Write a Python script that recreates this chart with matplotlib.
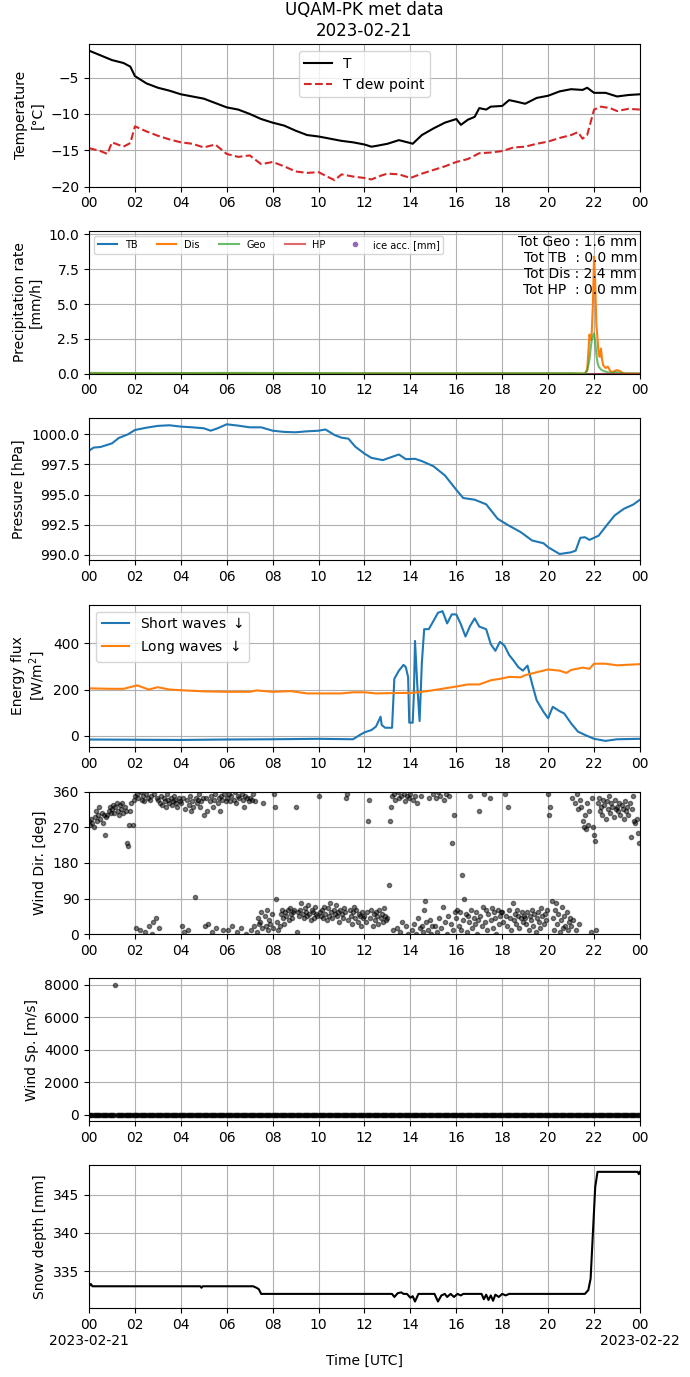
import numpy as np
import pandas as pd
import matplotlib
matplotlib.use("Agg")
import matplotlib.pyplot as plt
import matplotlib.dates as mdates
from matplotlib.ticker import FuncFormatter

day = pd.Timestamp("2023-02-21")

# temperature (hours since 00 UTC)
t_hours = [0, 1, 1.5, 1.8, 2, 2.5, 3, 3.5, 4, 4.5, 5, 5.5, 6, 6.5, 7, 7.5, 8, 8.5, 9, 9.5,
           10, 10.5, 11, 11.5, 12, 12.3, 12.5, 13, 13.5, 14, 14.1, 14.5, 15, 15.5, 16, 16.2,
           16.5, 16.8, 17, 17.3, 17.5, 18, 18.3, 18.6, 19, 19.5, 20, 20.5, 21, 21.5, 21.7,
           22, 22.5, 23, 23.5, 24]
temp = [-1.3, -2.6, -3.0, -3.5, -4.8, -5.8, -6.4, -6.8, -7.3, -7.6, -7.9, -8.5, -9.1, -9.4,
        -10.0, -10.7, -11.2, -11.6, -12.3, -12.9, -13.1, -13.4, -13.7, -13.9, -14.2, -14.5,
        -14.4, -14.1, -13.6, -14.0, -14.1, -12.9, -12.0, -11.2, -10.7, -11.5, -10.8, -10.4,
        -9.2, -9.4, -9.0, -8.9, -8.1, -8.3, -8.6, -7.8, -7.5, -6.9, -6.6, -6.7, -6.4, -7.1,
        -7.1, -7.6, -7.4, -7.3]
td_hours = [0, 0.5, 0.8, 1.0, 1.5, 1.8, 2.0, 2.5, 3.0, 3.5, 4.0, 4.5, 5.0, 5.5, 6.0, 6.5, 7.0,
            7.5, 8.0, 8.5, 9.0, 9.5, 10.0, 10.5, 10.7, 11.0, 11.5, 12.0, 12.3, 12.7, 13.0, 13.5,
            14.0, 14.5, 15.0, 15.5, 16.0, 16.5, 17.0, 17.5, 18.0, 18.5, 19.0, 19.5, 20.0, 20.5,
            21.0, 21.3, 21.5, 21.7, 22.0, 22.3, 22.7, 23.0, 23.5, 24.0]
dew = [-14.7, -15.1, -15.5, -13.9, -14.5, -14.0, -11.7, -12.4, -13.0, -13.5, -13.9, -14.1,
       -14.6, -14.2, -15.5, -15.9, -15.7, -16.9, -16.6, -17.2, -17.9, -18.1, -18.0, -18.8,
       -19.1, -18.3, -18.6, -18.8, -19.0, -18.5, -18.2, -18.3, -18.8, -18.2, -17.7, -17.2,
       -16.6, -16.2, -15.4, -15.3, -15.1, -14.6, -14.5, -14.1, -13.8, -13.3, -12.9, -12.5,
       -13.4, -12.9, -9.4, -9.0, -9.2, -9.6, -9.3, -9.4]

# precipitation rates [mm/h]
precip_hours = [0, 3, 6, 9, 12, 15, 18, 21, 21.6, 21.7, 21.75, 21.8, 21.85, 21.9, 21.95, 22.0,
                22.05, 22.1, 22.15, 22.2, 22.25, 22.3, 22.35, 22.4, 22.5, 22.6, 22.7, 22.8,
                22.9, 23.0, 23.1, 23.2, 23.3, 24.0]
dis = [0, 0, 0, 0, 0, 0, 0, 0, 0, 0.3, 1.5, 2.8, 2.4, 3.0, 5.0, 8.4, 6.5, 3.5, 2.5, 1.4, 1.2,
       1.8, 1.0, 0.6, 0.4, 0.5, 0.2, 0.1, 0.2, 0.25, 0.2, 0.1, 0.0, 0.0]
geo = [0.05, 0.03, 0.05, 0.04, 0.03, 0.02, 0.03, 0.03, 0.0, 0.2, 0.6, 1.0, 1.8, 2.4, 2.7, 2.9,
       2.3, 1.4, 0.8, 0.5, 0.4, 0.3, 0.25, 0.2, 0.15, 0.1, 0.05, 0.05, 0.1, 0.1, 0.05, 0.05,
       0.02, 0.0]
tb_hours = [0, 24]
tb = [0.0, 0.0]
hp_hours = [21.8, 24]
hp = [0.0, 0.0]
ice_hours = []
ice_acc = []
totals = {"Geo": 1.6, "TB": 0.0, "Dis": 2.4, "HP": 0.0}

# pressure [hPa]
p_hours = [0, 0.2, 0.5, 1.0, 1.3, 1.7, 2.0, 2.5, 3.0, 3.5, 4.0, 4.5, 5.0, 5.3, 5.6, 6.0, 6.5,
           7.0, 7.5, 8.0, 8.5, 9.0, 9.5, 10.0, 10.3, 10.7, 11.0, 11.3, 11.6, 12.0, 12.3, 12.8,
           13.0, 13.5, 13.8, 14.2, 14.5, 15.0, 15.5, 16.0, 16.3, 16.8, 17.3, 17.8, 18.2, 18.8,
           19.3, 19.8, 20.0, 20.5, 21.0, 21.2, 21.4, 21.6, 21.8, 22.2, 22.6, 22.9, 23.3, 23.7,
           24.0]
pressure = [998.64, 998.9, 998.95, 999.25, 999.7, 1000.0, 1000.36, 1000.55, 1000.7, 1000.75,
            1000.64, 1000.58, 1000.5, 1000.3, 1000.5, 1000.83, 1000.72, 1000.58, 1000.58,
            1000.3, 1000.2, 1000.17, 1000.25, 1000.3, 1000.4, 999.94, 999.72, 999.64, 998.97,
            998.4, 998.05, 997.86, 998.0, 998.33, 997.94, 997.97, 997.78, 997.36, 996.6, 995.4,
            994.72, 994.58, 994.2, 993.0, 992.53, 991.9, 991.2, 990.97, 990.64, 990.08, 990.22,
            990.36, 991.42, 991.47, 991.25, 991.6, 992.58, 993.28, 993.83, 994.17, 994.58]

# radiation [W/m2]
sw_hours = [0, 2, 4, 6, 8, 10, 11.5, 11.8, 12.0, 12.3, 12.5, 12.6, 12.7, 12.75, 12.9, 13.2,
            13.3, 13.5, 13.7, 13.8, 13.9, 13.95, 14.1, 14.15, 14.2, 14.3, 14.4, 14.5, 14.6,
            14.8, 15.0, 15.2, 15.4, 15.6, 15.8, 16.0, 16.2, 16.4, 16.6, 16.8, 17.0, 17.3, 17.5,
            17.7, 17.9, 18.1, 18.3, 18.5, 18.7, 18.9, 19.1, 19.3, 19.5, 19.8, 20.0, 20.2, 20.5,
            20.7, 21.0, 21.3, 21.6, 22.0, 22.5, 23.0, 24.0]
short_wave = [-17, -18, -19, -17, -16, -14, -16, 3, 14, 24, 39, 60, 82, 46, 34, 34, 247, 282,
              307, 297, 254, 56, 56, 175, 411, 218, 63, 318, 462, 462, 497, 533, 540, 487, 526,
              526, 483, 430, 476, 509, 473, 462, 397, 368, 407, 390, 350, 325, 297, 282, 304,
              225, 153, 103, 75, 125, 106, 96, 53, 17, 3, -14, -23, -16, -14]
lw_hours = [0, 1, 1.5, 2.1, 2.6, 3.0, 3.5, 4, 5, 6, 7, 7.3, 8, 8.8, 9.5, 10.5, 11, 11.5, 12,
            12.5, 13.5, 14, 14.5, 15, 15.5, 16, 16.5, 17, 17.5, 18, 18.3, 18.8, 19, 19.5, 20,
            20.5, 20.8, 21, 21.5, 21.8, 22.0, 22.5, 23, 24]
long_wave = [205, 203, 203, 218, 200, 210, 200, 197, 192, 190, 190, 196, 190, 193, 183, 183,
             183, 188, 188, 183, 185, 185, 190, 197, 205, 213, 222, 222, 240, 248, 255, 253,
             262, 275, 287, 282, 272, 285, 295, 290, 312, 312, 305, 310]

# wind, 3-minute samples, one row per hour
wind_dir = [
    285, 275, 290, 280, 270, 295, 310, 285, 300, 320, 290, 305, 280, 300, 250, 295, 300, 310, 320, 305,
    315, 325, 305, 320, 330, 310, 300, 325, 315, 330, 305, 320, 312, 230, 222, 275, 310, 330, 275, 340,
    350, 15, 355, 345, 10, 358, 340, 350, 335, 5, 355, 345, 20, 340, 350, 0, 30, 355, 40, 345,
    340, 15, 330, 350, 325, 345, 335, 320, 355, 340, 330, 345, 325, 335, 350, 340, 330, 320, 345, 335,
    330, 20, 345, 5, 315, 340, 10, 325, 350, 310, 335, 320, 95, 345, 330, 340, 355, 320, 335, 345,
    300, 20, 345, 310, 25, 335, 350, 5, 320, 340, 355, 15, 330, 345, 310, 350, 340, 10, 355, 335,
    345, 10, 355, 335, 350, 20, 340, 360, 330, 5, 350, 345, 15, 355, 340, 320, 350, 0, 345, 335,
    345, 10, 340, 355, 20, 335, 5, 40, 25, 30, 55, 15, 330, 45, 20, 60, 10, 35, 25, 50,
    15, 355, 320, 90, 30, 10, 20, 50, 60, 40, 25, 55, 45, 60, 35, 65, 50, 40, 55, 60,
    320, 5, 55, 45, 60, 80, 50, 40, 65, 55, 45, 75, 50, 35, 60, 55, 40, 70, 50, 45,
    350, 55, 45, 60, 40, 70, 50, 35, 65, 45, 80, 55, 40, 60, 50, 75, 45, 55, 30, 60,
    50, 40, 65, 55, 345, 355, 35, 60, 45, 25, 55, 70, 40, 60, 30, 50, 45, 20, 55, 40,
    45, 30, 55, 285, 340, 40, 60, 20, 50, 35, 55, 45, 25, 60, 40, 50, 30, 65, 45, 35,
    40, 125, 285, 320, 350, 10, 355, 340, 15, 360, 345, 5, 350, 30, 355, 335, 20, 350, 0, 345,
    355, 10, 340, 25, 350, 0, 330, 40, 15, 350, 20, 5, 60, 85, 30, 10, 345, 35, 0, 20,
    355, 20, 345, 5, 360, 40, 350, 15, 70, 340, 30, 355, 0, 45, 350, 25, 230, 10, 300, 55,
    40, 60, 20, 55, 10, 150, 35, 90, 50, 5, 45, 30, 350, 60, 15, 40, 25, 55, 0, 35,
    310, 45, 20, 70, 355, 30, 60, 10, 50, 345, 35, 65, 15, 55, 40, 0, 60, 25, 45, 55,
    55, 30, 355, 45, 20, 320, 60, 40, 10, 80, 35, 50, 25, 60, 45, 15, 40, 55, 30, 45,
    40, 25, 55, 10, 45, 35, 60, 20, 50, 5, 40, 55, 30, 15, 65, 45, 25, 50, 35, 60,
    355, 300, 320, 85, 40, 10, 60, 80, 25, 50, 5, 35, 70, 15, 45, 20, 55, 10, 30, 40,
    20, 345, 35, 330, 10, 355, 315, 25, 340, 320, 285, 270, 300, 265, 330, 275, 310, 5, 345, 270,
    250, 235, 10, 330, 345, 310, 320, 300, 340, 325, 290, 335, 315, 350, 305, 330, 320, 295, 340, 315,
    320, 310, 330, 300, 325, 315, 290, 335, 310, 320, 300, 330, 245, 315, 350, 285, 280, 290, 255, 230,
]
wind_speed = [
    3.1, 2.8, 3.4, 3.0, 2.6, 3.2, 3.5, 2.9, 3.3, 3.0, 2.7, 3.1, 3.4, 2.8, 3.0, 3.3, 2.9, 3.1, 3.6, 3.2,
    3.0, 3.3, 2.8, 8000.0, 3.1, 2.9, 3.4, 3.2, 2.7, 3.0, 3.5, 3.1, 2.9, 3.3, 3.0, 2.8, 3.2, 3.4, 3.1, 2.9,
    2.7, 2.5, 3.0, 2.8, 2.4, 2.9, 3.1, 2.6, 2.3, 2.8, 3.0, 2.5, 2.7, 2.9, 2.4, 2.6, 3.1, 2.8, 2.5, 2.7,
    2.6, 2.9, 2.4, 2.7, 3.0, 2.5, 2.8, 2.3, 2.6, 2.9, 2.7, 2.4, 2.8, 3.1, 2.6, 2.5, 2.9, 2.7, 2.4, 2.8,
    2.5, 2.2, 2.8, 2.6, 2.3, 2.9, 2.4, 2.7, 2.1, 2.5, 2.8, 2.6, 2.2, 2.4, 2.9, 2.5, 2.3, 2.7, 2.6, 2.4,
    2.3, 2.6, 2.0, 2.4, 2.7, 2.2, 2.5, 2.8, 2.1, 2.4, 2.6, 2.3, 2.0, 2.5, 2.7, 2.2, 2.4, 2.6, 2.1, 2.3,
    2.2, 2.5, 1.9, 2.3, 2.6, 2.1, 2.4, 2.0, 2.7, 2.3, 2.1, 2.5, 2.2, 1.8, 2.4, 2.6, 2.0, 2.3, 2.5, 2.1,
    2.0, 1.7, 2.3, 1.9, 1.6, 2.1, 1.8, 2.2, 1.5, 1.9, 2.0, 1.7, 2.2, 1.8, 2.4, 2.0, 1.9, 2.3, 2.1, 2.5,
    2.4, 2.8, 2.2, 2.6, 3.0, 2.5, 2.9, 2.7, 3.1, 2.6, 2.8, 3.2, 2.9, 2.7, 3.3, 3.0, 2.8, 3.1, 3.4, 2.9,
    3.2, 3.5, 3.0, 3.6, 3.3, 3.8, 3.1, 3.4, 3.7, 3.2, 3.5, 3.9, 3.3, 3.6, 3.1, 3.4, 3.8, 3.5, 3.2, 3.6,
    3.7, 3.4, 4.0, 3.6, 3.3, 3.9, 3.5, 4.1, 3.8, 3.4, 3.6, 4.0, 3.7, 3.5, 3.9, 4.2, 3.6, 3.8, 3.4, 4.0,
    3.9, 4.2, 3.6, 4.0, 4.4, 3.8, 4.1, 3.7, 4.3, 3.9, 4.5, 4.0, 3.8, 4.2, 3.6, 4.1, 4.4, 3.9, 4.0, 4.3,
    4.1, 3.8, 4.4, 4.0, 3.7, 4.3, 3.9, 4.6, 4.2, 3.8, 4.0, 4.5, 4.1, 3.7, 4.3, 4.0, 4.4, 3.9, 4.2, 4.6,
    4.4, 4.0, 4.7, 4.2, 3.9, 4.5, 4.1, 4.8, 4.3, 3.8, 4.6, 4.2, 4.0, 4.9, 4.4, 4.1, 4.5, 3.9, 4.3, 4.7,
    4.5, 4.9, 4.2, 4.6, 5.0, 4.3, 4.7, 4.1, 4.8, 4.4, 5.1, 4.6, 4.2, 4.9, 4.5, 4.3, 4.8, 5.0, 4.4, 4.6,
    4.8, 4.4, 5.1, 4.7, 4.3, 5.0, 4.6, 5.2, 4.5, 4.9, 4.2, 4.8, 5.3, 4.6, 4.4, 5.0, 4.7, 4.3, 4.9, 5.1,
    4.7, 5.0, 4.4, 4.8, 5.2, 4.5, 4.9, 4.3, 5.1, 4.6, 4.2, 4.8, 5.0, 4.4, 4.7, 5.3, 4.6, 4.5, 4.9, 4.3,
    4.5, 4.2, 4.8, 4.4, 4.1, 4.7, 4.3, 4.9, 4.0, 4.6, 4.4, 4.2, 4.8, 4.5, 4.1, 4.7, 4.3, 4.0, 4.6, 4.4,
    4.2, 4.5, 3.9, 4.3, 4.6, 4.0, 4.4, 3.8, 4.5, 4.1, 3.9, 4.3, 4.6, 4.0, 4.2, 4.4, 3.8, 4.1, 4.5, 4.0,
    3.9, 3.6, 4.2, 3.8, 3.5, 4.0, 3.7, 4.3, 3.6, 3.9, 4.1, 3.5, 3.8, 4.2, 3.7, 3.4, 4.0, 3.8, 3.6, 4.1,
    3.6, 3.9, 3.3, 3.7, 4.0, 3.4, 3.8, 3.2, 3.9, 3.5, 3.3, 3.7, 4.1, 3.6, 3.4, 3.8, 3.5, 3.2, 3.9, 3.6,
    3.4, 3.1, 3.7, 3.3, 3.0, 3.6, 3.2, 3.8, 3.5, 3.1, 3.9, 3.6, 3.3, 4.0, 3.7, 3.4, 4.2, 3.8, 3.5, 4.1,
    4.3, 4.0, 4.6, 4.2, 4.8, 4.4, 4.1, 4.7, 4.3, 4.9, 4.5, 4.2, 4.6, 4.0, 4.4, 4.8, 4.3, 4.1, 4.5, 4.7,
    4.5, 4.2, 4.8, 4.4, 4.1, 4.6, 4.3, 4.9, 4.5, 4.0, 4.7, 4.4, 4.2, 4.6, 4.3, 4.8, 4.1, 4.5, 4.4, 4.2,
]

# snow depth [mm]
snow_hours = [0, 0.08, 0.15, 4.85, 4.9, 4.95, 7.15, 7.3, 7.4, 7.5, 13.2, 13.3, 13.45, 13.6, 13.7,
              13.85, 14.0, 14.1, 14.2, 14.35, 15.05, 15.2, 15.35, 15.5, 15.6, 15.75, 15.9, 16.05,
              16.2, 16.3, 16.4, 17.1, 17.2, 17.3, 17.4, 17.5, 17.6, 17.7, 17.85, 18.0, 18.15,
              18.3, 21.6, 21.75, 21.85, 21.95, 22.05, 22.15, 23.9, 23.95, 24.0]
snow_depth = [333.0, 333.3, 333.0, 333.0, 332.8, 333.0, 333.0, 332.8, 332.6, 332.0, 332.0, 331.6,
              332.1, 332.2, 332.0, 332.0, 331.5, 331.7, 331.0, 332.0, 332.0, 331.0, 331.8, 332.0,
              331.6, 332.0, 331.6, 332.0, 331.8, 332.0, 332.0, 332.0, 331.3, 331.9, 331.2, 331.8,
              331.1, 331.9, 331.6, 332.0, 331.8, 332.0, 332.0, 332.5, 334.0, 340.0, 346.0, 348.0,
              348.0, 347.7, 348.0]


def to_time(hours):
    return day + pd.to_timedelta(np.asarray(hours, dtype=float), unit="h")


wind_times = day + pd.to_timedelta(np.arange(len(wind_dir)) * 3, unit="min")

fig, axes = plt.subplots(7, 1, figsize=(6.9, 13.77), dpi=100)
plt.subplots_adjust(left=0.129, right=0.9275, top=0.968, bottom=0.0501, hspace=0.31)
ax1, ax2, ax3, ax4, ax5, ax6, ax7 = axes

# temperature
ax1.plot(to_time(t_hours), temp, color="k", lw=1.5, label="T")
ax1.plot(to_time(td_hours), dew, color="tab:red", ls="--", lw=1.5, label="T dew point")
ax1.set_ylim(-20, -0.4)
ax1.set_ylabel("Temperature\n[°C]")
ax1.set_title("UQAM-PK met data\n2023-02-21")
ax1.legend(loc="upper center")

# precipitation
ax2.plot(to_time(tb_hours), tb, color="tab:blue", label="TB")
ax2.plot(to_time(precip_hours), dis, color="tab:orange", label="Dis")
ax2.plot(to_time(precip_hours), geo, color="tab:green", alpha=0.7, label="Geo")
ax2.plot(to_time(hp_hours), hp, color="tab:red", alpha=0.7, label="HP")
ax2.plot(to_time(ice_hours), ice_acc, ".", color="tab:purple", label="ice acc. [mm]")
ax2.set_ylim(0, 10.25)
ax2.set_ylabel("Precipitation rate\n[mm/h]")
ax2.legend(loc="upper left", ncol=5, fontsize=7)
txt = "\n".join([
    "Tot Geo : {:.1f} mm".format(totals["Geo"]),
    "Tot TB  : {:.1f} mm".format(totals["TB"]),
    "Tot Dis : {:.1f} mm".format(totals["Dis"]),
    "Tot HP  : {:.1f} mm".format(totals["HP"]),
])
ax2.text(0.995, 0.975, txt, transform=ax2.transAxes, ha="right", va="top",
         multialignment="right", fontsize=10)

# pressure
ax3.plot(to_time(p_hours), pressure, color="tab:blue", lw=1.5)
ax3.set_ylabel("Pressure [hPa]")

# radiation
ax4.plot(to_time(sw_hours), short_wave, color="tab:blue", lw=1.5, label="Short waves $\\downarrow$")
ax4.plot(to_time(lw_hours), long_wave, color="tab:orange", lw=1.5, label="Long waves $\\downarrow$")
ax4.set_ylabel("Energy flux\n[W/m$^2$]")
ax4.legend(loc="upper left")

# wind direction
ax5.plot(wind_times, wind_dir, ".", color="k", alpha=0.5)
ax5.set_ylim(0, 360)
ax5.set_yticks([0, 90, 180, 270, 360])
ax5.set_ylabel("Wind Dir. [deg]")

# wind speed
ax6.plot(wind_times, wind_speed, ".", color="k", alpha=0.5)
ax6.set_ylabel("Wind Sp. [m/s]")

# snow depth
ax7.plot(to_time(snow_hours), snow_depth, color="k", lw=1.5)
ax7.set_ylabel("Snow depth [mm]")
ax7.set_xlabel("Time [UTC]")

for ax in axes:
    ax.set_xlim(day, day + pd.Timedelta(days=1))
    ax.xaxis.set_major_locator(mdates.HourLocator(byhour=range(0, 24, 2)))
    ax.xaxis.set_major_formatter(mdates.DateFormatter("%H"))
    ax.grid(True)


def bottom_labels(x, pos):
    d = mdates.num2date(x)
    if d.hour == 0:
        return d.strftime("%H\n%Y-%m-%d")
    return d.strftime("%H")


ax7.xaxis.set_major_formatter(FuncFormatter(bottom_labels))

fig.savefig("out.png", dpi=100)
